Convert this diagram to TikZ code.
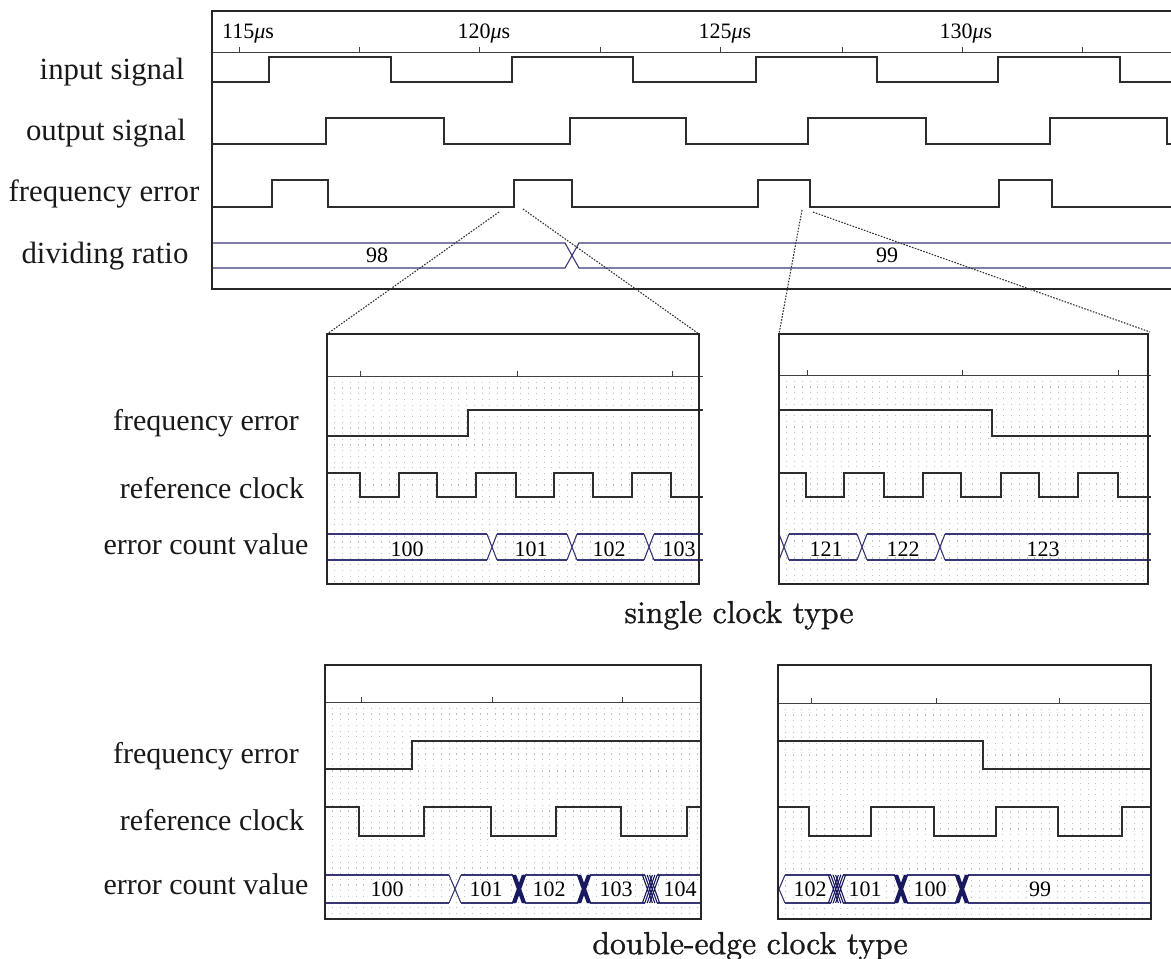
\documentclass[tikz,border=0pt]{standalone}
\usepackage{fontspec}
\newfontfamily\tms{Liberation Serif}
\newfontfamily\capf[FakeBold=1.1]{lmroman10-regular.otf}
\definecolor{wavec}{RGB}{45,45,45}
\definecolor{busc}{RGB}{55,55,120}
\definecolor{busd}{RGB}{25,25,95}
\newcommand{\myX}[4]{\draw[busl] ({#1-#4},#2) -- ({#1+#4},#3) ({#1-#4},#3) -- ({#1+#4},#2);}
\newcommand{\myBX}[4]{\foreach \o in {-1.2,0,1.2}{\draw[busl,draw=busd,line width=1.9pt] ({#1+\o-#4},#2) -- ({#1+\o+#4},#3) ({#1+\o-#4},#3) -- ({#1+\o+#4},#2);}}
\newcommand{\myHX}[4]{\foreach \o in {-3.6,-1.2,1.2,3.6}{\draw[busl,draw=busd,line width=1.1pt] ({#1+\o-#4},#2) -- ({#1+\o+#4},#3) ({#1+\o-#4},#3) -- ({#1+\o+#4},#2);}}
% #1 left #2 top #3 right #4 bottom #5 axis
\newcommand{\zgrid}[5]{\foreach \i in {1,...,48}{\draw[gridl] ({#1+\i*7.75},#5) -- ({#1+\i*7.75},#4);}\draw[axisl] (#1,#5) -- (#3,#5);}
\begin{document}
\begin{tikzpicture}[x=1pt,y=-1pt,
  wave/.style={line width=1.4pt, draw=wavec, line join=miter},
  busl/.style={line width=1.1pt, draw=busc},
  frame/.style={line width=2.4pt, draw=black!85},
  axisl/.style={line width=1pt, draw=black!75},
  zoomline/.style={line width=1.1pt, dash pattern=on 1.6pt off 1.4pt, draw=black!80},
  lab/.style={font=\tms\fontsize{30.8}{36}\selectfont, anchor=base, text=black!90, inner sep=0pt},
  zlab/.style={font=\tms\fontsize{30}{36}\selectfont, anchor=base, text=black!90, inner sep=0pt},
  tlab/.style={font=\tms\fontsize{22}{26}\selectfont, anchor=base, inner sep=0pt},
  blab/.style={font=\tms\fontsize{22}{26}\selectfont, anchor=base, fill=white, inner sep=1pt},
  captext/.style={font=\capf\fontsize{31.7}{38}\selectfont, anchor=base, inner sep=0pt, text=black!90},
  gridl/.style={line width=0.9pt, draw=black!25, dash pattern=on 1.2pt off 4.5pt}
]
\useasboundingbox (0,0) rectangle (1171,959);

% ================= top panel =================
\draw[axisl] (212,52) -- (1180,52);
\foreach \t in {239,359,479,600,720,842,962,1082} \draw[axisl] (\t,52) -- (\t,47);
\node[tlab] (t115) at (248,38) {115{\itshape μ}s};
\node[tlab] (t120) at (484,38) {120{\itshape μ}s};
\node[tlab] (t125) at (725,38) {125{\itshape μ}s};
\node[tlab] (t130) at (966,38) {130{\itshape μ}s};

\draw[wave] (212,82) -| (269,57) -| (391,82) -| (512,57) -| (633,82) -| (756,57) -| (877,82) -| (998,57) -| (1120,82) -- (1180,82);
\draw[wave] (212,144) -| (326,118) -| (444,144) -| (570,118) -| (686,144) -| (808,118) -| (926,144) -| (1050,118) -| (1167,144) -- (1180,144);
\draw[wave] (212,207) -| (272,180) -| (328,207) -| (514,180) -| (572,207) -| (758,180) -| (810,207) -| (999,180) -| (1052,207) -- (1180,207);
\draw[busl] (212,243) -- (565,243) -- (579,268) -- (1180,268);
\draw[busl] (212,268) -- (565,268) -- (579,243) -- (1180,243);
\node[tlab] (r98) at (377,262) {98};
\node[tlab] (r99) at (887,262) {99};
\draw[frame] (1180,11) -- (212,11) -- (212,289) -- (1180,289);

\node[lab] (l1) at (112,79) {input signal};
\node[lab] (l2) at (106,140) {output signal};
\node[lab] (l3) at (104,201) {frequency error};
\node[lab] (l4) at (105,263) {dividing ratio};

% zoom lines
\coordinate (a1) at (499,212); \coordinate (a2) at (523,209);
\coordinate (b1) at (802,210); \coordinate (b2) at (813,212);
\coordinate (sl) at (327,334); \coordinate (slr) at (699,334);
\coordinate (sr) at (779,334); \coordinate (srr) at (1150,332);
\draw[zoomline] (a1) -- (sl);
\draw[zoomline] (a2) -- (slr);
\draw[zoomline] (b1) -- (sr);
\draw[zoomline] (b2) -- (srr);

% ================= single clock, left =================
\begin{scope}
\clip (327,334) rectangle (703,584);
\zgrid{327}{334}{703}{584}{376}
\foreach \t in {360,517,672} \draw[axisl] (\t,376) -- (\t,371);
\draw[wave] (327,436) -| (468,410) -- (703,410);
\draw[wave] (327,473) -| (360,497) -| (399,473) -| (437,497) -| (476,473) -| (516,497) -| (554,473) -| (593,497) -| (632,473) -| (671,497) -- (703,497);
\foreach \a/\b in {327/487,497/567,577/644,654/703} \draw[busl] (\a,534) -- (\b,534) (\a,560) -- (\b,560);
\myX{492}{534}{560}{5}
\myX{572}{534}{560}{5}
\myX{649}{534}{560}{5}
\node[blab] (s100) at (407,556) {100};
\node[blab] (s101) at (531,556) {101};
\node[blab] (s102) at (609,556) {102};
\node[blab] (s103) at (679,556) {103};
\end{scope}
\draw[frame] (327,334) rectangle (699,584);

% ================= single clock, right =================
\begin{scope}
\clip (779,334) rectangle (1151,584);
\zgrid{779}{334}{1151}{584}{375}
\foreach \t in {807,962,1118} \draw[axisl] (\t,375) -- (\t,370);
\draw[wave] (779,410) -| (992,436) -- (1151,436);
\draw[wave] (779,473) -| (806,497) -| (844,473) -| (884,497) -| (923,473) -| (961,497) -| (1001,473) -| (1039,497) -| (1078,473) -| (1118,497) -- (1151,497);
\foreach \a/\b in {789/857,867/935,945/1151} \draw[busl] (\a,534) -- (\b,534) (\a,560) -- (\b,560);
\myX{784}{534}{560}{5}
\myX{862}{534}{560}{5}
\myX{940}{534}{560}{5}
\node[blab] (s121) at (826,556) {121};
\node[blab] (s122) at (903,556) {122};
\node[blab] (s123) at (1043,556) {123};
\end{scope}
\draw[frame] (779,334) rectangle (1148,584);

\node[zlab] (sf) at (206,430) {frequency error};
\node[zlab] (sc) at (212,498) {reference clock};
\node[zlab] (se) at (206,554) {error count value};
\node[captext] (capS) at (739,623) {single clock type};

% ================= double edge, left =================
\begin{scope}
\clip (325,665) rectangle (701,919);
\zgrid{325}{665}{701}{919}{702}
\foreach \t in {361,492,622} \draw[axisl] (\t,702) -- (\t,697);
\draw[wave] (325,769) -| (412,741) -- (701,741);
\draw[wave] (325,807) -| (359,836) -| (424,807) -| (491,836) -| (556,807) -| (621,836) -| (687,807) -- (701,807);
\foreach \a/\b in {325/449,461/513,525/578,590/645,657/705} \draw[busl] (\a,875) -- (\b,875) (\a,903) -- (\b,903);
\myX{455}{875}{903}{6}
\myBX{519}{875}{903}{5}
\myBX{584}{875}{903}{5}
\myHX{651}{875}{903}{5}
\node[blab] (d100) at (387,896) {100};
\node[blab] (d101) at (486,896) {101};
\node[blab] (d102) at (549,896) {102};
\node[blab] (d103) at (616,896) {103};
\node[blab] (d104) at (680,896) {104};
\end{scope}
\draw[frame] (325,665) rectangle (701,919);

% ================= double edge, right =================
\begin{scope}
\clip (778,665) rectangle (1151,919);
\zgrid{778}{665}{1151}{919}{703}
\foreach \t in {811,936,1059} \draw[axisl] (\t,703) -- (\t,698);
\draw[wave] (778,741) -| (983,769) -- (1151,769);
\draw[wave] (778,807) -| (809,836) -| (871,807) -| (934,836) -| (996,807) -| (1058,836) -| (1122,807) -- (1151,807);
\foreach \a/\b in {785/831,843/895,907/956,968/1154} \draw[busl] (\a,875) -- (\b,875) (\a,903) -- (\b,903);
\myX{779}{875}{903}{6}
\myHX{837}{875}{903}{5}
\myBX{901}{875}{903}{5}
\myBX{962}{875}{903}{5}
\node[blab] (e102) at (810,896) {102};
\node[blab] (e101) at (865,896) {101};
\node[blab] (e100) at (930,896) {100};
\node[blab] (e99) at (1040,896) {99};
\end{scope}
\draw[frame] (778,665) rectangle (1151,919);

\node[zlab] (df) at (206,763) {frequency error};
\node[zlab] (dc) at (212,830) {reference clock};
\node[zlab] (de) at (206,894) {error count value};
\node[captext] (capD) at (750,954) {double-edge clock type};
\end{tikzpicture}
\end{document}
